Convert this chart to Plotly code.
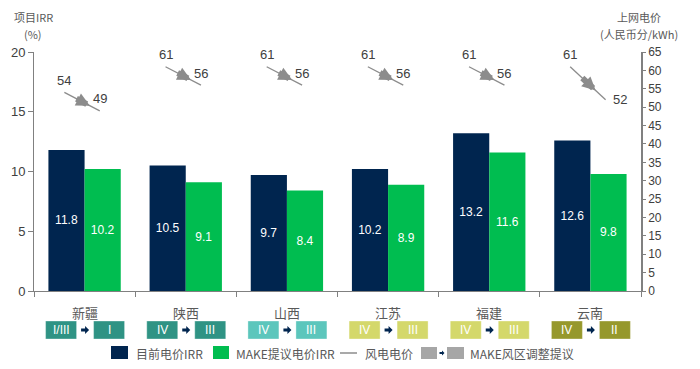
import plotly.graph_objects as go

# ---------------- data ----------------
regions = ["新疆", "陕西", "山西", "江苏", "福建", "云南"]
irr_current = [11.8, 10.5, 9.7, 10.2, 13.2, 12.6]
irr_make = [10.2, 9.1, 8.4, 8.9, 11.6, 9.8]
price_current = [54, 61, 61, 61, 61, 61]
price_make = [49, 56, 56, 56, 56, 52]
zone_from = ["I/III", "IV", "IV", "IV", "IV", "IV"]
zone_to = ["I", "III", "III", "III", "III", "II"]
zone_colors = ["#2F9384", "#2F9384", "#5CC6BC", "#D4D86B", "#D4D86B", "#96982C"]

NAVY = "#00254F"
GREEN = "#00BD50"
GRAY_LINE = "#8C8C8C"
TXT = "#404040"
LBL = "#595959"

OFF = 8  # page body margin of the browser
W, H = 700 - OFF, 369 - OFF
L, R, T, B = 34, 641, 52, 291  # plot area in reference (window) pixels
CATW = (R - L) / 6.0


def px_x(px):
    return (px - L) / (R - L)


def px_y(py):
    return (B - py) / (B - T)


xs = list(range(len(regions)))

fig = go.Figure()
fig.add_trace(go.Bar(
    x=xs, y=irr_current, name="目前电价IRR", marker=dict(color=NAVY, line=dict(width=0)),
    texttemplate="%{y:.1f}", textposition="inside", insidetextanchor="middle",
    textangle=0, textfont=dict(color="#FFFFFF", size=12, family="Arial"),
    showlegend=False,
))
fig.add_trace(go.Bar(
    x=xs, y=irr_make, name="MAKE提议电价IRR", marker=dict(color=GREEN, line=dict(width=0)),
    texttemplate="%{y:.1f}", textposition="inside", insidetextanchor="middle",
    textangle=0, textfont=dict(color="#FFFFFF", size=12, family="Arial"),
    showlegend=False,
))

annotations = []
shapes = []

x0_off, x1_off = -0.2, 0.15
end_label_shift = [(0, 12), (0, 12), (0, 12), (0, 12), (0, 12), (14, 0)]
for i, (p0, p1) in enumerate(zip(price_current, price_make)):
    xa, xb = i + x0_off, i + x1_off
    fig.add_trace(go.Scatter(
        x=[xa, xb], y=[p0, p1], yaxis="y2", mode="lines",
        line=dict(color=GRAY_LINE, width=1.3), showlegend=False, hoverinfo="skip",
    ))
    # thick block arrow in the middle of the line
    ft, fh = 0.3, 0.72
    annotations.append(dict(
        x=xa + (xb - xa) * fh, y=p0 + (p1 - p0) * fh, xref="x", yref="y2",
        ax=xa + (xb - xa) * ft, ay=p0 + (p1 - p0) * ft, axref="x", ayref="y2",
        showarrow=True, arrowhead=2, arrowsize=0.45, arrowwidth=6,
        arrowcolor=GRAY_LINE, text="", standoff=0, startstandoff=0,
    ))
    annotations.append(dict(
        x=xa, y=p0, xref="x", yref="y2", text=str(p0), showarrow=False,
        xanchor="center", yanchor="middle",
        yshift=12, font=dict(size=13, family="Arial", color=TXT),
    ))
    sx, sy = end_label_shift[i]
    annotations.append(dict(
        x=xb, y=p1, xref="x", yref="y2", text=str(p1), showarrow=False,
        xanchor="center", yanchor="middle",
        xshift=sx, yshift=sy, font=dict(size=13, family="Arial", color=TXT),
    ))

ARROW_PATH = "M -4,-1.6 L 0,-1.6 L 0,-4 L 4,0 L 0,4 L 0,1.6 L -4,1.6 Z"
ARROW_PATH_SMALL = "M -2.5,-1 L 0,-1 L 0,-2.5 L 2.5,0 L 0,2.5 L 0,1 L -2.5,1 Z"

# category names and wind-zone boxes
for i, name in enumerate(regions):
    annotations.append(dict(
        x=i, y=px_y(312), xref="x", yref="paper", text=name, showarrow=False,
        xanchor="center", yanchor="middle",
        font=dict(size=13, family="Noto Sans CJK SC", color=LBL),
    ))
    for (a, b, lab) in [(-39, -8, zone_from[i]), (9, 40, zone_to[i])]:
        shapes.append(dict(
            type="rect", xref="x", yref="paper",
            x0=i + a / CATW, x1=i + b / CATW, y0=px_y(339), y1=px_y(321),
            fillcolor=zone_colors[i], line=dict(color="rgba(255,255,255,0.35)", width=1),
        ))
        annotations.append(dict(
            x=i + (a + b) / 2 / CATW, y=px_y(330), xref="x", yref="paper", text=lab,
            xanchor="center", yanchor="middle",
            showarrow=False, font=dict(size=12, family="Arial", color="#FFFFFF"),
        ))
    shapes.append(dict(
        type="path", xref="x", yref="paper", xsizemode="pixel", ysizemode="pixel",
        xanchor=i + 0.5 / CATW, yanchor=px_y(330), path=ARROW_PATH,
        fillcolor=NAVY, line=dict(width=0),
    ))

# axis titles (two lines each)
for txt, x, ytop in [("项目IRR", 33, OFF), ("(%)", 33, 25),
                     ("上网电价", 639, OFF), ("(人民币分/kWh)", 639, 25)]:
    annotations.append(dict(
        x=px_x(x), y=px_y(ytop), xref="paper", yref="paper", text=txt, showarrow=False,
        xanchor="center", yanchor="top", borderpad=0,
        font=dict(size=11, family="Noto Sans CJK SC", color=LBL),
    ))

# manual legend
LY = 353
shapes.append(dict(type="rect", xref="paper", yref="paper", x0=px_x(111), x1=px_x(128),
                   y0=px_y(359), y1=px_y(346), fillcolor=NAVY, line=dict(width=0)))
shapes.append(dict(type="rect", xref="paper", yref="paper", x0=px_x(213), x1=px_x(229),
                   y0=px_y(359), y1=px_y(346), fillcolor=GREEN, line=dict(width=0)))
shapes.append(dict(type="line", xref="paper", yref="paper", x0=px_x(340), x1=px_x(357),
                   y0=px_y(LY), y1=px_y(LY), line=dict(color=GRAY_LINE, width=1.5)))
shapes.append(dict(type="rect", xref="paper", yref="paper", x0=px_x(421), x1=px_x(437),
                   y0=px_y(359), y1=px_y(347), fillcolor="#A6A6A6", line=dict(width=0)))
shapes.append(dict(type="rect", xref="paper", yref="paper", x0=px_x(447), x1=px_x(464),
                   y0=px_y(359), y1=px_y(347), fillcolor="#A6A6A6", line=dict(width=0)))
shapes.append(dict(
    type="path", xref="paper", yref="paper", xsizemode="pixel", ysizemode="pixel",
    xanchor=px_x(442), yanchor=px_y(LY), path=ARROW_PATH_SMALL,
    fillcolor=NAVY, line=dict(width=0),
))
for txt, x in [("目前电价IRR", 134), ("MAKE提议电价IRR", 234), ("风电电价", 363),
               ("MAKE风区调整提议", 468)]:
    annotations.append(dict(
        x=px_x(x), y=px_y(LY), xref="paper", yref="paper", text=txt, showarrow=False,
        xanchor="left", yanchor="middle",
        font=dict(size=12, family="Noto Sans CJK SC", color=LBL),
    ))

fig.update_layout(
    width=W, height=H, autosize=False,
    margin=dict(l=L - OFF, r=700 - R, t=T - OFF, b=369 - B, pad=0, autoexpand=False),
    paper_bgcolor="white", plot_bgcolor="white",
    barmode="group", bargap=0.285, bargroupgap=0,
    showlegend=False,
    xaxis=dict(
        range=[-0.5, 5.5], tickvals=[k - 0.5 for k in range(7)], ticktext=[""] * 7,
        ticks="outside", ticklen=5, tickcolor="#808080", showline=True, automargin=False,
        linecolor="#808080", linewidth=1, showgrid=False, zeroline=False,
    ),
    yaxis=dict(
        range=[0, 20], dtick=5, ticks="outside", ticklen=5, tickcolor="#808080",
        showline=True, linecolor="#808080", linewidth=1, showgrid=False, zeroline=False,
        tickfont=dict(size=13, family="Arial", color=TXT), automargin=False,
    ),
    yaxis2=dict(
        range=[0, 65], dtick=5, overlaying="y", side="right", ticks="outside",
        ticklen=3, tickcolor="#808080", showline=True, linecolor="#808080",
        linewidth=1.5, showgrid=False, zeroline=False, automargin=False,
        tickfont=dict(size=12, family="Arial", color=TXT),
    ),
    annotations=annotations,
    shapes=shapes,
)

fig.write_html("out.html")
